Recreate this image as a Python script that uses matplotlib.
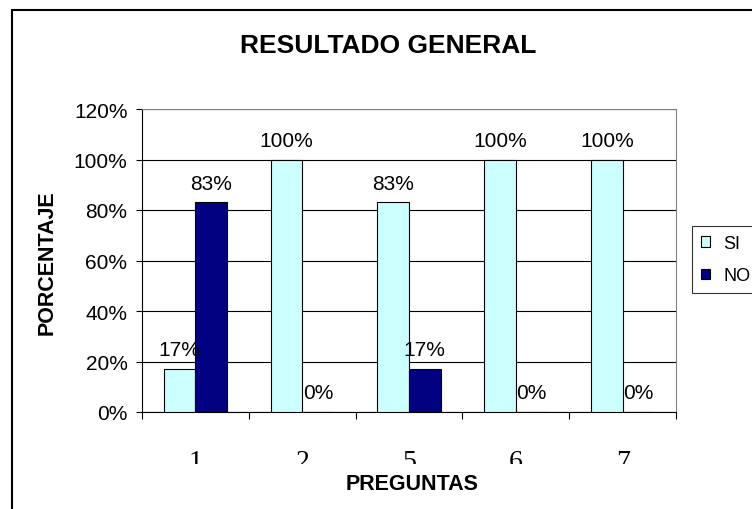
import numpy as np
import matplotlib.pyplot as plt
from matplotlib.patches import Rectangle
from matplotlib.transforms import Bbox

# Data
preguntas = ["1", "2", "5", "6", "7"]
si = [17, 100, 83, 100, 100]
no = [83, 0, 17, 0, 0]
series = ["SI", "NO"]

plt.rcParams['font.family'] = ['Liberation Sans', 'DejaVu Sans']

W, H = 752, 510
fig = plt.figure(figsize=(W / 100, H / 100), dpi=100)
# plot area: x 142..676, y 110..413 (pixels from top-left)
ax = fig.add_axes([142 / W, (H - 413) / H, 534 / W, 303 / H])

x = np.arange(len(preguntas))
w = 0.295
b1 = ax.bar(x - w / 2, si, w, color="#CCFFFF", edgecolor="black", linewidth=0.8, label=series[0], zorder=3)
b2 = ax.bar(x + w / 2, no, w, color="#000080", edgecolor="black", linewidth=0.8, label=series[1], zorder=3)

for bars, vals in [(b1, si), (b2, no)]:
    for r, v in zip(bars, vals):
        ax.text(r.get_x() + r.get_width() / 2, v + 5.5, f"{v}%", ha="center", va="baseline",
                fontsize=15, zorder=4)

ax.set_xlim(-0.5, len(preguntas) - 0.5)
ax.set_ylim(0, 120)
ax.set_yticks(range(0, 121, 20))
ax.set_yticklabels([f"{v}%" for v in range(0, 121, 20)], fontsize=15)
ax.grid(axis="y", color="black", linewidth=0.8, zorder=0)

# category boundaries as tick marks, labels in the middle
ax.set_xticks(np.arange(-0.5, len(preguntas), 1.0))
ax.set_xticklabels([])
ax.tick_params(axis="x", direction="out", length=5, width=0.8)
ax.tick_params(axis="y", direction="out", length=4.5, width=0.8, pad=6)
for spine in ["top", "right"]:
    ax.spines[spine].set_color("#808080")
for spine in ["left", "bottom"]:
    ax.spines[spine].set_color("black")

# serif category numbers, cut off at the bottom like in the original
clip = Bbox([[0, H - 465], [W, H]])
for i, p in enumerate(preguntas):
    t = ax.text(i, -22, p, ha="center", va="baseline", fontsize=20,
                family=["Liberation Serif", "DejaVu Serif"])
    t.set_clip_box(clip)
    t.set_clip_on(True)

ax.set_xlabel("PREGUNTAS", fontsize=15.5, fontweight="bold")
ax.xaxis.label.set_va("baseline")
ax.xaxis.set_label_coords(0.505, -0.254)
ax.set_ylabel("PORCENTAJE", fontsize=15.5, fontweight="bold")
ax.yaxis.label.set_va("baseline")
ax.yaxis.set_label_coords(-0.167, 0.495)

fig.text(388.5 / W, (H - 53) / H, "RESULTADO GENERAL", ha="center", va="baseline",
         fontsize=19, fontweight="bold")

leg = ax.legend(loc="upper left", bbox_to_anchor=(692 / W, (H - 227) / H),
                bbox_transform=fig.transFigure, frameon=True, fancybox=False,
                fontsize=13, handlelength=0.5, handleheight=0.5, handletextpad=0.75,
                borderpad=0.5, labelspacing=0.85, borderaxespad=0)
leg.get_frame().set_edgecolor("black")
leg.get_frame().set_linewidth(0.8)

fig.patches.append(Rectangle((12 / W, -0.1), 2.0, (H - 11) / H + 0.1, transform=fig.transFigure,
                             fill=False, edgecolor="black", linewidth=1.5))

fig.savefig("out.png", dpi=100)
